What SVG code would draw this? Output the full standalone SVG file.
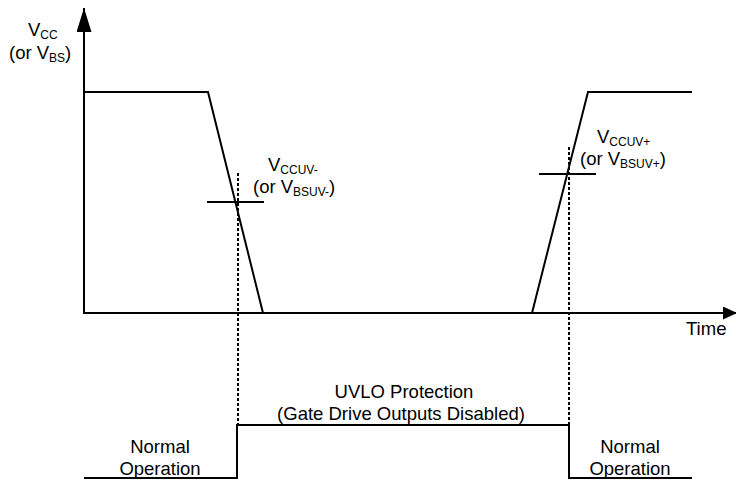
<svg xmlns="http://www.w3.org/2000/svg" width="736" height="480" viewBox="0 0 736 480">
<defs>
<style>
.ln{fill:none;stroke:#000;stroke-width:2}
.dot{fill:none;stroke:#000;stroke-width:2;stroke-dasharray:3 2}
text{font-family:"Liberation Sans",Arial,sans-serif;font-size:18.5px;fill:#000}
.sub{font-size:12px}
.c{text-anchor:middle}
</style>
<marker id="ahy" markerWidth="24" markerHeight="15" refX="24" refY="7.5" orient="auto" markerUnits="userSpaceOnUse">
<path d="M0,0 L24,7.5 L0,15 Z" fill="#000"/>
</marker>
<marker id="ahx" markerWidth="14" markerHeight="13" refX="14" refY="6.5" orient="auto" markerUnits="userSpaceOnUse">
<path d="M0,0 L14,6.5 L0,13 Z" fill="#000"/>
</marker>
</defs>
<g id="axes">
<line class="ln" x1="84" y1="314" x2="84" y2="8" marker-end="url(#ahy)"/>
<line class="ln" x1="83" y1="313" x2="737" y2="313" marker-end="url(#ahx)"/>
</g>
<g id="waveform">
<polyline class="ln" points="84,92 208,92 263,313"/>
<polyline class="ln" points="532,313 588,92 692,92"/>
<line class="ln" x1="207" y1="202" x2="264" y2="202"/>
<line class="ln" x1="539" y1="174" x2="596" y2="174"/>
</g>
<g id="connectors">
<line class="dot" x1="238" y1="173" x2="238" y2="425"/>
<line class="dot" x1="569" y1="147" x2="569" y2="425"/>
</g>
<g id="uvlo-signal">
<polyline class="ln" points="84,478 237,478 237,425 569,425 569,478 692,478"/>
</g>
<g id="labels">
<text x="28" y="36">V<tspan class="sub" dy="3">CC</tspan></text>
<text x="9" y="59">(or V<tspan class="sub" dy="3">BS</tspan><tspan dy="-3">)</tspan></text>
<text x="268" y="171">V<tspan class="sub" dy="3">CCUV-</tspan></text>
<text x="253" y="193">(or V<tspan class="sub" dy="3">BSUV-</tspan><tspan dy="-3">)</tspan></text>
<text x="597" y="143">V<tspan class="sub" dy="3">CCUV+</tspan></text>
<text x="580" y="165">(or V<tspan class="sub" dy="3">BSUV+</tspan><tspan dy="-3">)</tspan></text>
<text x="686" y="335">Time</text>
<text class="c" x="404" y="398">UVLO Protection</text>
<text class="c" x="401" y="420">(Gate Drive Outputs Disabled)</text>
<text class="c" x="160" y="453">Normal</text>
<text class="c" x="160" y="475">Operation</text>
<text class="c" x="630" y="453">Normal</text>
<text class="c" x="630" y="475">Operation</text>
</g>
</svg>
